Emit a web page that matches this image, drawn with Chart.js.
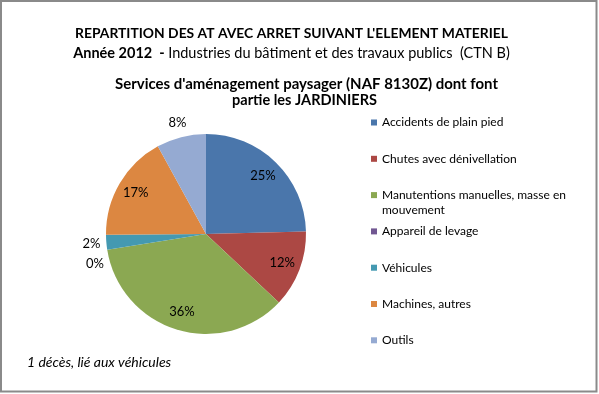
<!DOCTYPE html>
<html>
<head>
<meta charset="utf-8">
<script src="https://cdn.jsdelivr.net/npm/chart.js"></script>
<style>
  html, body { margin: 0; padding: 0; background: #fff; }
</style>
</head>
<body>
<canvas id="myChart" width="599" height="394"></canvas>
<script>
// data (percent of accidents)
const categories = [
  "Accidents de plain pied",
  "Chutes avec dénivellation",
  "Manutentions manuelles, masse en mouvement",
  "Appareil de levage",
  "Véhicules",
  "Machines, autres",
  "Outils"
];
const shares = [24.6, 12.4, 35.5, 0, 2.4, 17.1, 8.0];
const colors = ["#4A76AB", "#AC4844", "#8BA852", "#715792", "#4499B1", "#DC8741", "#95AAD2"];

const titleLine1 = "REPARTITION DES AT AVEC ARRET SUIVANT L'ELEMENT MATERIEL";
const titleLine2Bold = "Année 2012  - ";
const titleLine2 = "Industries du bâtiment et des travaux publics  (CTN B)";
const subtitle = ["Services d'aménagement paysager (NAF 8130Z) dont font", "partie les JARDINIERS"];
const footnote = "1 décès, lié aux véhicules";

const FONT = "Lato, 'Open Sans', sans-serif";

function wrap(ctx, text, maxW) {
  const words = text.split(" ");
  const lines = [];
  let cur = "";
  words.forEach((w) => {
    const test = cur ? cur + " " + w : w;
    if (ctx.measureText(test).width > maxW && cur) {
      lines.push(cur);
      cur = w;
    } else {
      cur = test;
    }
  });
  lines.push(cur);
  return lines;
}

// percent labels on the slices
const sliceLabels = {
  id: "sliceLabels",
  afterDatasetsDraw(chart) {
    const ctx = chart.ctx;
    const meta = chart.getDatasetMeta(0);
    ctx.save();
    ctx.font = "13px " + FONT;
    ctx.fillStyle = "#000";
    ctx.textAlign = "center";
    ctx.textBaseline = "middle";
    const placed = [];
    for (let i = meta.data.length - 1; i >= 0; i--) {
      const p = meta.data[i].getProps(["x", "y", "startAngle", "endAngle", "outerRadius"], true);
      const inside = shares[i] >= 10;
      const r = inside ? p.outerRadius * 0.815 : p.outerRadius + 15;
      let mid = (p.startAngle + p.endAngle) / 2;
      let lx = p.x + Math.cos(mid) * r;
      let ly = p.y + Math.sin(mid) * r;
      if (!inside) {
        while (placed.some((q) => Math.abs(q.y - ly) < 20 && Math.abs(q.x - lx) < 30)) {
          mid -= Math.PI / 180;
          lx = p.x + Math.cos(mid) * r;
          ly = p.y + Math.sin(mid) * r;
        }
        placed.push({ x: lx, y: ly });
      }
      ctx.fillText(Math.round(shares[i]) + "%", lx, ly);
    }
    ctx.restore();
  }
};

// titles, legend, footnote and frame
const decor = {
  id: "decor",
  afterDraw(chart) {
    const ctx = chart.ctx;
    ctx.save();
    ctx.fillStyle = "#000";
    ctx.textBaseline = "alphabetic";
    ctx.textAlign = "center";

    ctx.font = "bold 14px " + FONT;
    ctx.fillText(titleLine1, 291.5, 38, 433);

    // second line: bold part + normal part
    ctx.textAlign = "left";
    ctx.font = "bold 14.5px " + FONT;
    const wb = ctx.measureText(titleLine2Bold).width;
    ctx.font = "14.5px " + FONT;
    const wn = ctx.measureText(titleLine2).width;
    const k = Math.min(1, 439 / (wb + wn));
    let x0 = 291.5 - (wb + wn) * k / 2;
    ctx.font = "bold 14.5px " + FONT;
    ctx.fillText(titleLine2Bold, x0, 57.5, wb * k);
    ctx.font = "14.5px " + FONT;
    ctx.fillText(titleLine2, x0 + wb * k, 57.5, wn * k);

    ctx.textAlign = "center";
    ctx.font = "bold 15px " + FONT;
    ctx.fillText(subtitle[0], 306.5, 89, 383);
    ctx.fillText(subtitle[1], 304.5, 105, 145);

    // legend
    ctx.font = "12px " + FONT;
    ctx.textAlign = "left";
    ctx.textBaseline = "middle";
    const bg = chart.data.datasets[0].backgroundColor;
    chart.data.labels.forEach((lab, i) => {
      const y = 122.5 + i * 36.3;
      ctx.fillStyle = bg[i];
      ctx.fillRect(371, y - 3, 6, 6);
      ctx.fillStyle = "#000";
      wrap(ctx, lab, 192).forEach((line, j) => {
        ctx.fillText(line, 382, y + j * 15.5);
      });
    });

    ctx.font = "italic 14px " + FONT;
    ctx.fillText(footnote, 27, 362);

    ctx.strokeStyle = "#8a8a8a";
    ctx.lineWidth = 2;
    ctx.strokeRect(1, 1, 595.5, 390.5);
    ctx.restore();
  }
};

var ctx = document.getElementById("myChart").getContext("2d");
var chart = new Chart(ctx, {
  type: "pie",
  data: {
    labels: categories,
    datasets: [
      {
        data: shares,
        backgroundColor: colors,
        borderWidth: 0
      }
    ]
  },
  options: {
    responsive: false,
    animation: false,
    layout: { padding: { left: 106, top: 134, right: 293, bottom: 60 } },
    plugins: {
      legend: { display: false },
      tooltip: { enabled: false }
    }
  },
  plugins: [sliceLabels, decor]
});
</script>
</body>
</html>
